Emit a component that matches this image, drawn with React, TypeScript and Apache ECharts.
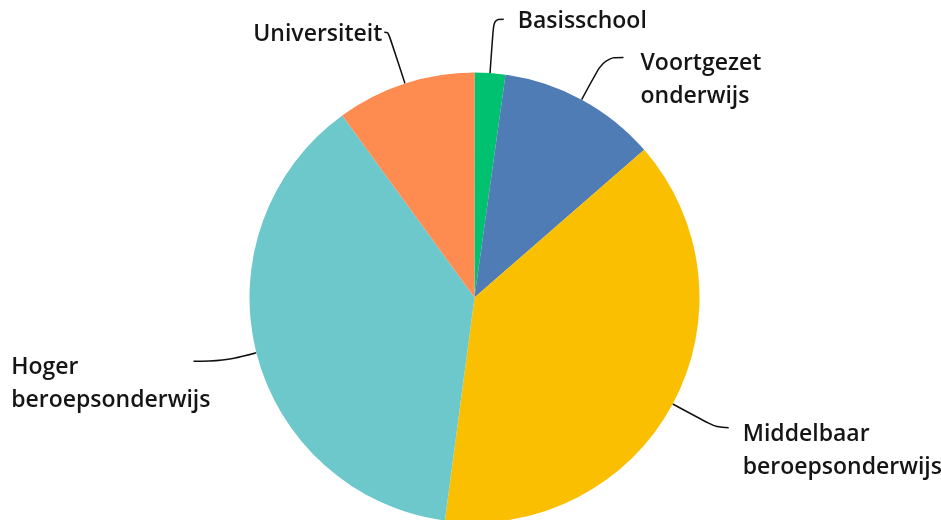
import React, { useEffect, useRef } from "react";
import * as echarts from "echarts";

const categories = [
  "Basisschool",
  "Voortgezet\nonderwijs",
  "Middelbaar\nberoepsonderwijs",
  "Hoger\nberoepsonderwijs",
  "Universiteit",
];
const values = [2.2, 11.4, 38.5, 37.9, 10.0];
const colors = ["#00C170", "#4F7CB4", "#F9BF00", "#6CC8CB", "#FE8B50"];
const lineLengths = [54, 48, 50, 35, 54];
const lineLengths2 = [10, 19, 12, 29, 4];
const labelGaps = [14, 17, 14, -17, 2];

export default function App() {
  const ref = useRef<HTMLDivElement>(null);
  useEffect(() => {
    if (!ref.current) return;
    const chart = echarts.init(ref.current, undefined, { renderer: "svg" });
    const data = categories.map((name, i) => {
      const lines = name.split("\n");
      const rich =
        lines.length > 1
          ? "{s| }\n" + lines.map((l) => "{a|" + l + "}").join("\n")
          : "{a|" + name + "}";
      return {
        name,
        value: values[i],
        itemStyle: { color: colors[i] },
        label: {
          formatter: rich,
          distanceToLabelLine: labelGaps[i],
        },
        labelLine: { length: lineLengths[i], length2: lineLengths2[i] },
      };
    });
    const base = {
      fontFamily: "Open Sans",
      fontWeight: 600,
      fontSize: 23,
      lineHeight: 33,
      color: "#151515",
      align: "left",
    };
    chart.setOption({
      animation: false,
      series: [
        {
          type: "pie",
          center: [474.5, 297.5],
          radius: 225,
          startAngle: 90,
          clockwise: true,
          avoidLabelOverlap: false,
          labelLayout: { hideOverlap: false },
          data,
          label: {
            show: true,
            position: "outside",
            alignTo: "none",
            rich: {
              a: base,
              s: { ...base, lineHeight: 41 },
            },
          },
          labelLine: {
            show: true,
            smooth: 0.4,
            minTurnAngle: 0,
            maxSurfaceAngle: 180,
            lineStyle: { color: "#111", width: 1.5 },
          },
          emphasis: { disabled: true },
        },
      ],
    });
    return () => chart.dispose();
  }, []);
  return (
    <div
      ref={ref}
      style={{ position: "fixed", left: 0, top: 0, width: 941, height: 520 }}
    />
  );
}
